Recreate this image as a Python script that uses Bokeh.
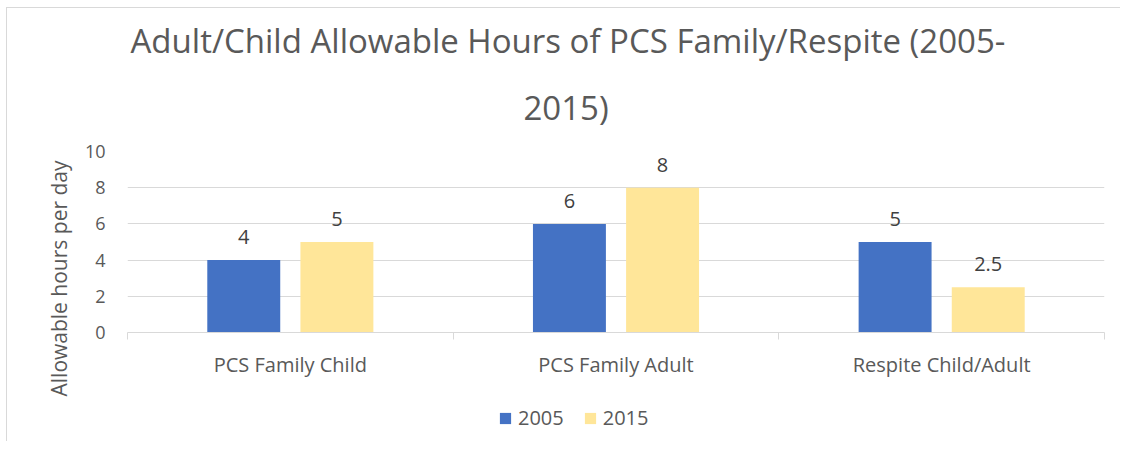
from bokeh.plotting import figure
from bokeh.layouts import column
from bokeh.models import (Range1d, LinearAxis, FixedTicker, Title,
                          Legend, LegendItem, ColumnDataSource)
from bokeh.transform import dodge
from bokeh.core.properties import value
from bokeh.embed import file_html
from bokeh.resources import INLINE

categories = ["PCS Family Child", "PCS Family Adult", "Respite Child/Adult"]
series_names = ["2005", "2015"]
values_2005 = [4, 6, 5]
values_2015 = [5, 8, 2.5]
label_2005 = ["4", "6", "5"]
label_2015 = ["5", "8", "2.5"]
y_ticks = [0, 2, 4, 6, 8, 10]

FONT = "Open Sans"
BLUE = "#4472C4"
YELLOW = "#FFE699"
GRID = "#D9D9D9"
TXT = "#595959"

n = len(categories)
centers = [i + 0.5 for i in range(n)]
src = ColumnDataSource(dict(xc=centers, cat=categories, v05=values_2005, v15=values_2015,
                            l05=label_2005, l15=label_2015))

p = figure(width=1113, height=395, x_range=Range1d(0, n),
           y_range=Range1d(0, 10), output_backend="svg", toolbar_location=None,
           x_axis_location=None, min_border_left=120, min_border_right=16,
           min_border_top=143, min_border_bottom=71)
p.title.visible = False
p.outline_line_color = None
p.background_fill_color = "white"
p.border_fill_color = "white"

# y axis
p.yaxis.ticker = FixedTicker(ticks=y_ticks)
p.yaxis.axis_line_color = None
p.yaxis.major_tick_line_color = None
p.yaxis.minor_tick_line_color = None
p.yaxis.major_label_standoff = 16
p.yaxis.major_label_text_font = FONT
p.yaxis.major_label_text_font_size = "18px"
p.yaxis.major_label_text_color = TXT
p.ygrid.grid_line_color = GRID
p.ygrid.grid_line_width = 1
p.xgrid.grid_line_color = None

# x axis: boundary ticks + category labels
bounds = list(range(n + 1))
tick_axis = LinearAxis(ticker=FixedTicker(ticks=bounds),
                       major_label_overrides={b: "" for b in bounds},
                       axis_line_color=GRID, major_tick_line_color=GRID, major_tick_in=0,
                       major_tick_out=7, minor_tick_line_color=None,
                       major_label_text_font_size="1px", major_label_standoff=0)
cat_axis = LinearAxis(ticker=FixedTicker(ticks=centers),
                      major_label_overrides={c: name for c, name in zip(centers, categories)},
                      axis_line_color=None, major_tick_line_color=None,
                      minor_tick_line_color=None, major_label_standoff=5,
                      major_label_text_font=FONT, major_label_text_font_size="20px",
                      major_label_text_color=TXT)
p.add_layout(tick_axis, "below")
p.add_layout(cat_axis, "below")

# bars
r05 = p.vbar(x=dodge("xc", -0.143), top="v05", width=0.224, source=src,
             fill_color=BLUE, line_color=None)
r15 = p.vbar(x=dodge("xc", 0.143), top="v15", width=0.224, source=src,
             fill_color=YELLOW, line_color=None)

# data labels
for col, lab, off in (("v05", "l05", -0.143), ("v15", "l15", 0.143)):
    p.text(x=dodge("xc", off), y=col, text=lab, source=src,
           text_align="center", text_baseline="middle", y_offset=-23,
           text_font=value(FONT), text_font_size="20px", text_color="#404040")

# title (two lines, stacked above the frame)
p.add_layout(Title(text="2015)", align="left", offset=396, standoff=42,
                   vertical_align="middle",
                   text_font=FONT, text_font_size="33px", text_font_style="normal",
                   text_color=TXT), "above")
p.add_layout(Title(text="Adult/Child Allowable Hours of PCS Family/Respite (2005-",
                   align="left", offset=3, standoff=0,
                   text_font=FONT, text_font_size="33px", text_font_style="normal",
                   text_color=TXT), "above")

# y axis title
p.add_layout(Title(text="Allowable hours per day", align="right", offset=9, standoff=17,
                   text_font=FONT, text_font_size="21px", text_font_style="normal",
                   text_color=TXT), "left")

# legend in its own strip below the chart
lf = figure(width=1113, height=38, x_range=Range1d(0, 1), y_range=Range1d(0, 1),
            output_backend="svg", toolbar_location=None, x_axis_location=None,
            y_axis_location=None, min_border=0)
lf.title.visible = False
lf.outline_line_color = None
lf.grid.visible = False
proxy = ColumnDataSource(dict(x=[0.5], top=[0]))
g05 = lf.vbar(x="x", top="top", width=0.01, source=proxy, fill_color=BLUE, line_color=None)
g15 = lf.vbar(x="x", top="top", width=0.01, source=proxy, fill_color=YELLOW, line_color=None)
legend = Legend(items=[LegendItem(label=series_names[0], renderers=[g05]),
                       LegendItem(label=series_names[1], renderers=[g15])],
                orientation="horizontal", location=(371, 10), margin=0, padding=0,
                glyph_width=14, glyph_height=14, label_standoff=6, spacing=19,
                label_text_font=FONT, label_text_font_size="20px", label_text_color=TXT,
                border_line_color=None, background_fill_alpha=0)
lf.add_layout(legend, "center")

layout = column(p, lf, spacing=0,
                styles={"border-left": "1px solid #D9D9D9", "border-top": "1px solid #D9D9D9",
                        "margin-left": "6px", "margin-top": "7px"})

open("out.html", "w").write(file_html(layout, INLINE))
